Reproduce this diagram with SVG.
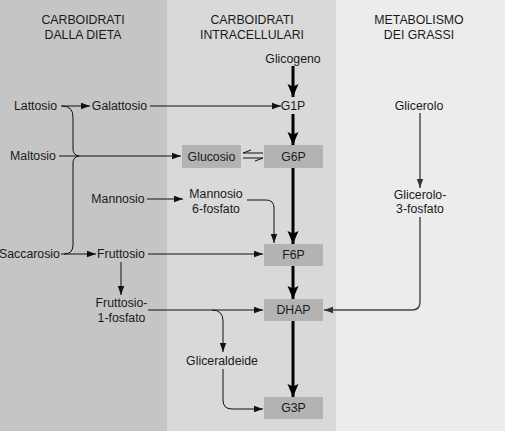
<svg xmlns="http://www.w3.org/2000/svg" width="505" height="431" viewBox="0 0 505 431">
<defs>
<style>
text{font-family:"Liberation Sans",Arial,sans-serif;font-size:12.3px;fill:#1a1a1a;text-anchor:middle}
.box{fill:#b3b3b3}
.thin{fill:none;stroke:#111;stroke-width:1}
.thick{fill:none;stroke:#000;stroke-width:3}
.gray{fill:none;stroke:#444;stroke-width:1.4}
</style>
<marker id="a" markerUnits="userSpaceOnUse" markerWidth="10" markerHeight="8" refX="9" refY="4" orient="auto"><path d="M0,0.8 L9,4 L0,7.2 Z" fill="#111"/></marker>
<marker id="ag" markerUnits="userSpaceOnUse" markerWidth="10" markerHeight="8" refX="9" refY="4" orient="auto"><path d="M0,0.8 L9,4 L0,7.2 Z" fill="#333"/></marker>
<marker id="t" markerUnits="userSpaceOnUse" markerWidth="14" markerHeight="12" refX="13" refY="6" orient="auto"><path d="M0,0.5 L13,6 L0,11.5 L2.5,6 Z" fill="#000"/></marker>
</defs>
<rect x="0" y="0" width="167" height="431" fill="#c5c5c5"/>
<rect x="167" y="0" width="169" height="431" fill="#d9d9d9"/>
<rect x="336" y="0" width="169" height="431" fill="#ececec"/>
<g id="headers">
<text x="83" y="24">CARBOIDRATI</text><text x="83" y="39">DALLA DIETA</text>
<text x="252" y="24">CARBOIDRATI</text><text x="252" y="39">INTRACELLULARI</text>
<text x="419" y="24">METABOLISMO</text><text x="419" y="39">DEI GRASSI</text>
</g>
<g id="connectors">
<path class="thick" d="M293 66 L293 97" marker-end="url(#t)"/>
<path class="thick" d="M293 114 L293 145" marker-end="url(#t)"/>
<path class="thick" d="M293 168 L293 244" marker-end="url(#t)"/>
<path class="thick" d="M293 266 L293 299" marker-end="url(#t)"/>
<path class="thick" d="M293 321 L293 397" marker-end="url(#t)"/>
<path class="thin" d="M61 106 L90 106" marker-end="url(#a)"/>
<path class="thin" d="M150 106 L281 106" marker-end="url(#a)"/>
<path class="thin" d="M59 156 L181 156" marker-end="url(#a)"/>
<path class="thin" d="M62 106 Q73 106 73 117 L73 149 Q73 155 79 156 Q73 157 73 163 L73 245 Q73 254 64 254"/>
<path class="thin" d="M61 254 L96 254" marker-end="url(#a)"/>
<path class="thin" d="M148 254 L263 254" marker-end="url(#a)"/>
<path class="thin" d="M121 262 L121 295" marker-end="url(#a)"/>
<path class="thin" d="M147 199 L183 199" marker-end="url(#a)"/>
<path class="thin" d="M247 200 L266 200 Q274 200 274 208 L274 243" marker-end="url(#a)"/>
<path class="thin" d="M148 310 L263 310" marker-end="url(#a)"/>
<path class="thin" d="M212 310 Q223 310 223 321 L223 352" marker-end="url(#a)"/>
<path class="thin" d="M223 369 L223 400 Q223 409 232 409 L263 409" marker-end="url(#a)"/>
<path class="gray" d="M420 113 L420 188" marker-end="url(#ag)"/>
<path class="gray" d="M420 217 L420 302 Q420 310 412 310 L324 310" marker-end="url(#ag)"/>
<path class="thin" d="M263 153 L243 153 L251 150"/>
<path class="thin" d="M243 158 L263 158 L255 161"/>
</g>
<g id="glicogeno"><text x="293" y="63">Glicogeno</text></g>
<g id="g1p"><text x="293" y="110">G1P</text></g>
<g id="glicerolo"><text x="419" y="110">Glicerolo</text></g>
<g id="lattosio"><text x="35.5" y="110">Lattosio</text></g>
<g id="galattosio"><text x="119.5" y="110">Galattosio</text></g>
<g id="maltosio"><text x="33" y="160">Maltosio</text></g>
<g id="glucosio"><rect class="box" x="182" y="145" width="59" height="23"/><text x="211.5" y="160.5">Glucosio</text></g>
<g id="g6p"><rect class="box" x="264" y="145" width="59" height="23"/><text x="293.5" y="160.5">G6P</text></g>
<g id="mannosio"><text x="118" y="203">Mannosio</text></g>
<g id="mannosio6p"><text x="216" y="198">Mannosio</text><text x="216" y="213">6-fosfato</text></g>
<g id="glicerolo3p"><text x="420" y="199">Glicerolo-</text><text x="420" y="213">3-fosfato</text></g>
<g id="saccarosio"><text x="29.5" y="258">Saccarosio</text></g>
<g id="fruttosio"><text x="121" y="258">Fruttosio</text></g>
<g id="f6p"><rect class="box" x="264" y="244" width="59" height="22"/><text x="293.5" y="259">F6P</text></g>
<g id="fruttosio1p"><text x="121.5" y="307">Fruttosio-</text><text x="121.5" y="322">1-fosfato</text></g>
<g id="dhap"><rect class="box" x="264" y="299" width="59" height="22"/><text x="293.5" y="314">DHAP</text></g>
<g id="gliceraldeide"><text x="222" y="365">Gliceraldeide</text></g>
<g id="g3p"><rect class="box" x="264" y="397" width="59" height="22"/><text x="293.5" y="412">G3P</text></g>
</svg>
